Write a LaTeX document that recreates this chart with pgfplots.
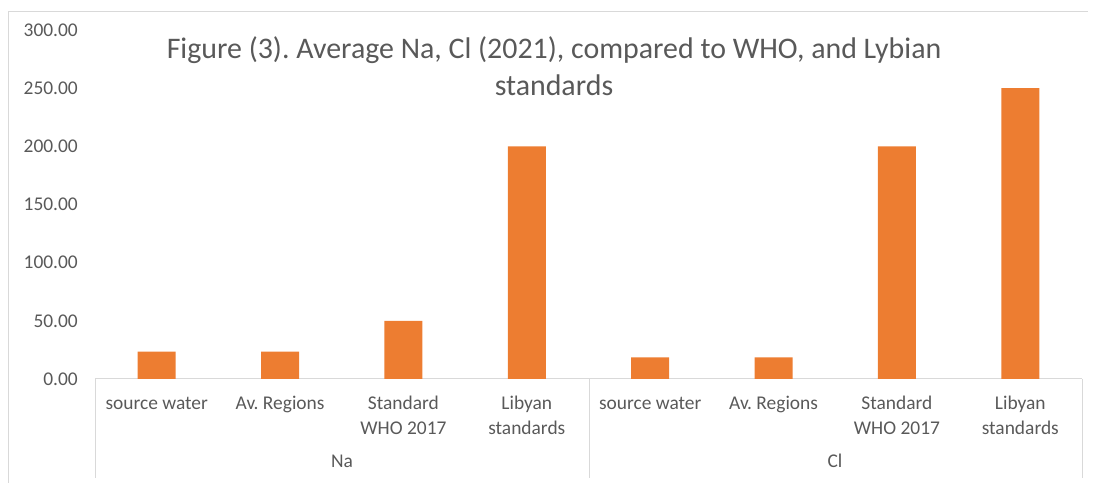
\documentclass[border=0pt]{standalone}
\usepackage{pgfplots}
\pgfplotsset{compat=1.18}
\usepackage{fontspec}
\setmainfont{Carlito}
\frenchspacing
\definecolor{barorange}{HTML}{ED7D31}
\definecolor{txtgray}{HTML}{595959}
\definecolor{lngray}{HTML}{D9D9D9}
\begin{document}
\begin{tikzpicture}[x=1bp,y=1bp]
\useasboundingbox (0,0) rectangle (1093,485);
\draw[lngray, line width=1bp] (8,2) -- (8,473) -- (1088,473);
\begin{axis}[
  at={(95bp,106bp)}, anchor=south west, scale only axis,
  width=987bp, height=349bp,
  xmin=0.5, xmax=8.5, ymin=0, ymax=300,
  ytick={0,50,...,300},
  xtick={1,...,8},
  xticklabels={{\strut source water},{\strut Av. Regions},{\strut Standard\\WHO 2017},{\strut Libyan\\standards},{\strut source water},{\strut Av. Regions},{\strut Standard\\WHO 2017},{\strut Libyan\\standards}},
  yticklabel={\pgfmathprintnumber[fixed,fixed zerofill,precision=2,assume math mode=true]{\tick}},
  axis x line*=bottom, axis y line*=left,
  axis line style={-},
  x axis line style={draw=lngray, line width=1bp},
  y axis line style={draw=none},
  major tick length=0pt,
  tick style={draw=none},
  xticklabel style={align=center, anchor=north, inner sep=0pt, yshift=-13bp, text=txtgray, font=\fontsize{19.5}{25}\selectfont},
  yticklabel style={anchor=east, inner sep=0pt, xshift=-17bp, text=txtgray, font=\fontsize{19.5}{25}\selectfont},
  clip=false,
]
\addplot[ybar, bar width=38bp, fill=barorange, draw=none] coordinates {
  (1,23.5) (2,23.5) (3,50) (4,200) (5,18.5) (6,18.5) (7,200) (8,250)};
\end{axis}
\draw[lngray, line width=1bp] (95,106) -- (95,7);
\draw[lngray, line width=1bp] (589,106) -- (589,7);
\draw[lngray, line width=1bp] (1082,106) -- (1082,7);
\node[text=txtgray, font=\fontsize{19.5}{25}\selectfont, anchor=base] at (342,17) {Na};
\node[text=txtgray, font=\fontsize{19.5}{25}\selectfont, anchor=base] at (835,17) {Cl};
\node[text=txtgray, font=\fontsize{30}{37}\selectfont, anchor=base] at (554,426) {Figure (3). Average Na, Cl (2021), compared to WHO, and Lybian};
\node[text=txtgray, font=\fontsize{30}{37}\selectfont, anchor=base] at (554,389) {standards};
\end{tikzpicture}
\end{document}
